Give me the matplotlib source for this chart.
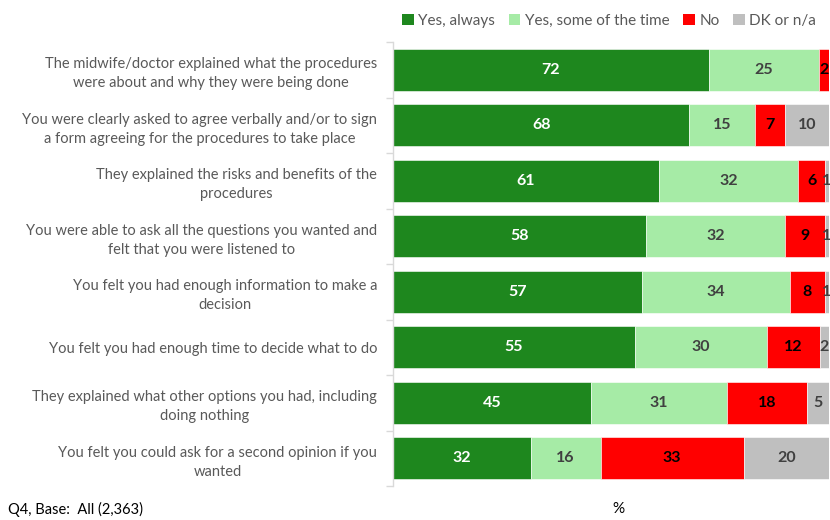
import matplotlib
matplotlib.use("Agg")
import matplotlib.pyplot as plt
from matplotlib.patches import Patch
from matplotlib.transforms import ScaledTranslation
import numpy as np

plt.rcParams['font.family'] = ['Lato', 'DejaVu Sans']

categories = [
    "The midwife/doctor explained what the procedures\nwere about and why they were being done",
    "You were clearly asked to agree verbally and/or to sign\na form agreeing for the procedures to take place",
    "They explained the risks and benefits of the\nprocedures",
    "You were able to ask all the questions you wanted and\nfelt that you were listened to",
    "You felt you had enough information to make a\ndecision",
    "You felt you had enough time to decide what to do",
    "They explained what other options you had, including\ndoing nothing",
    "You felt you could ask for a second opinion if you\nwanted",
]
series_names = ["Yes, always", "Yes, some of the time", "No", "DK or n/a"]
yes_always = [72.4, 68, 61, 58, 57, 55.4, 45.3, 31.6]
yes_some   = [25.3, 15, 32, 32, 34, 30.3, 31.3, 16.0]
no_vals    = [2.3, 7, 6, 9, 8, 12.2, 18.3, 32.8]
dk_vals    = [0.0, 10, 1, 1, 1, 2.1, 5.1, 19.6]

colors = ["#1E871E", "#A6EBA6", "#FF0000", "#BFBFBF"]
text_colors = ["white", "#404040", "black", "#404040"]

fig = plt.figure(figsize=(8.3, 5.2), dpi=100)
ax = fig.add_axes([393/830, 1 - 486/520, 436/830, (486 - 42)/520])

y = np.arange(len(categories))
left = np.zeros(len(categories))
for vals, col, tcol, name in zip([yes_always, yes_some, no_vals, dk_vals], colors, text_colors, series_names):
    vals = np.array(vals, dtype=float)
    ax.barh(y, vals, left=left, height=0.76, color=col, edgecolor="white", linewidth=0.4, label=name)
    for yi, (l, v) in enumerate(zip(left, vals)):
        if v >= 0.5:
            ax.text(l + v / 2, yi, f"{v:.0f}", ha="center", va="center",
                    color=tcol, fontsize=11.5, fontweight="bold", clip_on=False)
    left += vals

ax.set_xlim(0, 100)
ax.set_ylim(len(categories) - 0.5, -0.5)
ax.set_yticks(y)
ax.set_yticklabels(categories, fontsize=10.5, color="#595959", ha="center",
                   multialignment="center", linespacing=1.45)
ax.tick_params(axis="y", which="major", length=0, pad=0)
ax.set_yticks(np.arange(-0.5, len(categories), 1.0), minor=True)
ax.tick_params(axis="y", which="minor", length=5, color="#D9D9D9", width=1)
ax.set_xticks([])
for s in ["top", "right", "bottom"]:
    ax.spines[s].set_visible(False)
ax.spines["left"].set_color("#D9D9D9")
ax.spines["left"].set_linewidth(1)

fig.canvas.draw()
renderer = fig.canvas.get_renderer()
right_edge_px = 377
ax_x0 = ax.transAxes.transform((0, 0))[0]
for lab in ax.get_yticklabels():
    bb = lab.get_window_extent(renderer)
    cx = right_edge_px - bb.width / 2
    lab.set_transform(ax.get_yaxis_transform() + ScaledTranslation((cx - ax_x0) / 100, 0, fig.dpi_scale_trans))
    lab.set_ha("center")

handles = [Patch(facecolor=c, edgecolor="none") for c in colors]
fig.legend(handles, series_names, loc="upper right", bbox_to_anchor=(1.0, 1.0), ncol=4,
           frameon=False, fontsize=11, handlelength=0.75, handleheight=0.75,
           handletextpad=0.3, columnspacing=0.9, labelcolor="#595959")

fig.text(8/830, 1 - 509/520, "Q4, Base:  All (2,363)", fontsize=10.5, color="black", va="center", ha="left")
fig.text(618/830, 1 - 509/520, "%", fontsize=11, color="black", va="center", ha="center")

fig.savefig("out.png", dpi=100)
